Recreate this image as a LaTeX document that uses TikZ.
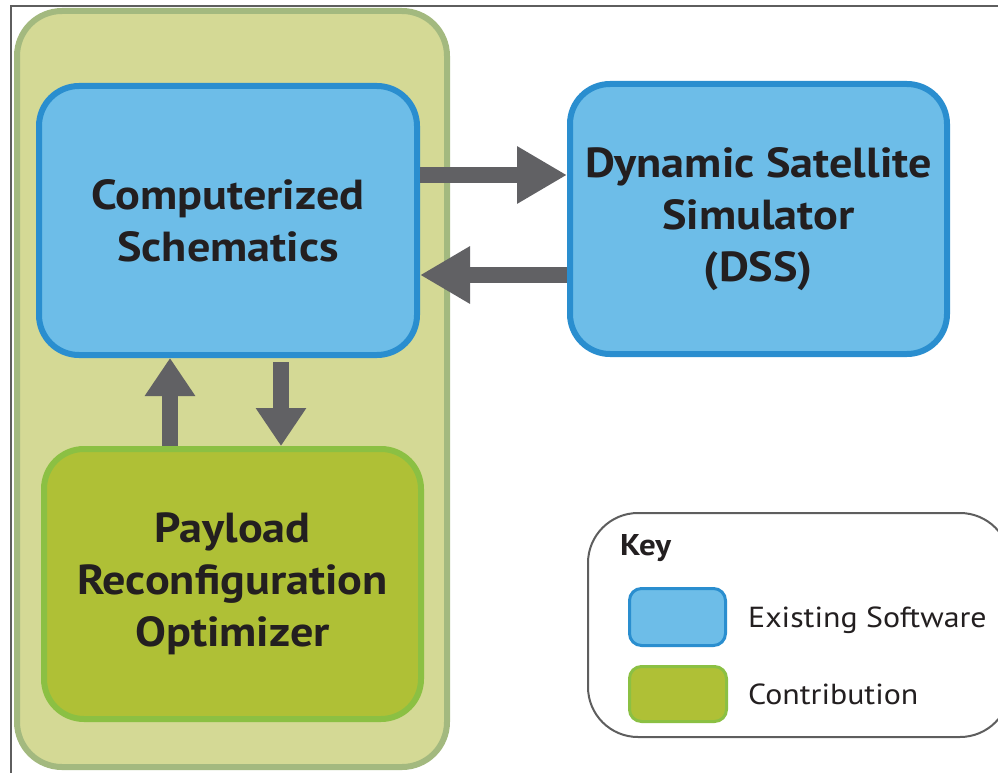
\documentclass[tikz,border=0pt]{standalone}
\usepackage{fontspec}
\setmainfont{PT Sans}[FakeStretch=1.1]
\usetikzlibrary{arrows.meta}
\definecolor{panelfill}{HTML}{D4D995}
\definecolor{panelline}{HTML}{A3B97F}
\definecolor{swfill}{HTML}{6DBDE8}
\definecolor{swline}{HTML}{2A8ECF}
\definecolor{cofill}{HTML}{AFC036}
\definecolor{coline}{HTML}{8BC043}
\definecolor{arrowgrey}{HTML}{616164}
\definecolor{ink}{HTML}{231F20}
\definecolor{framegrey}{HTML}{5E5E5E}
\begin{document}
\begin{tikzpicture}[x=1pt,y=-1pt,
  every node/.style={inner sep=0pt, text=ink},
  box/.style={rounded corners=40pt, line width=6pt, align=center,
    font=\bfseries\fontsize{42}{52}\selectfont},
  software/.style={box, fill=swfill, draw=swline},
  contrib/.style={box, fill=cofill, draw=coline},
  hflow/.style={draw=arrowgrey, line width=16pt,
    -{Triangle[length=50pt,width=54pt]}},
  vflow/.style={draw=arrowgrey, line width=16pt,
    -{Triangle[length=38pt,width=48pt]}},
  keytext/.style={anchor=base west, font=\fontsize{29}{36}\selectfont}]
\useasboundingbox (0,0) rectangle (998,773);
\clip (0,0) rectangle (998,773);

% page frame
\draw[framegrey, line width=2pt] (11,773) -- (11,6) -- (998,6);

% enclosing panel
\node[rounded corners=45pt, fill=panelfill, draw=panelline, line width=6pt,
  minimum width=430pt, minimum height=756pt] (panel) at (232,389) {};

% blocks
\node[software, minimum width=378pt, minimum height=269pt] (cs) at (228,220.5)
  {Computerized\\Schematics};
\node[software, minimum width=377pt, minimum height=270pt] (dss) at (758.5,219)
  {Dynamic Satellite\\Simulator\\(DSS)};
\node[contrib, minimum width=377pt, minimum height=270pt] (pro) at (232.5,584)
  {Payload\\Reconfiguration\\Optimizer};

% connectors
\coordinate (rowA) at (0,175);
\coordinate (rowB) at (0,275);
\coordinate (colA) at (170,0);
\coordinate (colB) at (281,0);
\draw[hflow] (cs.east |- rowA) -- (dss.west |- rowA);
\draw[hflow] (dss.west |- rowB) -- (cs.east |- rowB);
\draw[vflow] (pro.north -| colA) -- (cs.south -| colA);
\draw[vflow, shorten <=4pt] (cs.south -| colB) -- (pro.north -| colB);

% key
\node[rounded corners=50pt, draw=framegrey, line width=2pt, fill=white,
  minimum width=422pt, minimum height=224pt] (key) at (799,625) {};
\node[anchor=base west, font=\bfseries\fontsize{30}{36}\selectfont] (keytitle) at (620,555) {Key};
\node[rounded corners=12pt, fill=swfill, draw=swline, line width=3pt,
  minimum width=96pt, minimum height=57pt] (keysw) at (677.5,617) {};
\node[rounded corners=12pt, fill=cofill, draw=coline, line width=3pt,
  minimum width=97pt, minimum height=55pt] (keyco) at (678,694) {};
\node[keytext] (keyswtext) at (748,627) {Existing Software};
\node[keytext] (keycotext) at (748,704) {Contribution};
\end{tikzpicture}
\end{document}
